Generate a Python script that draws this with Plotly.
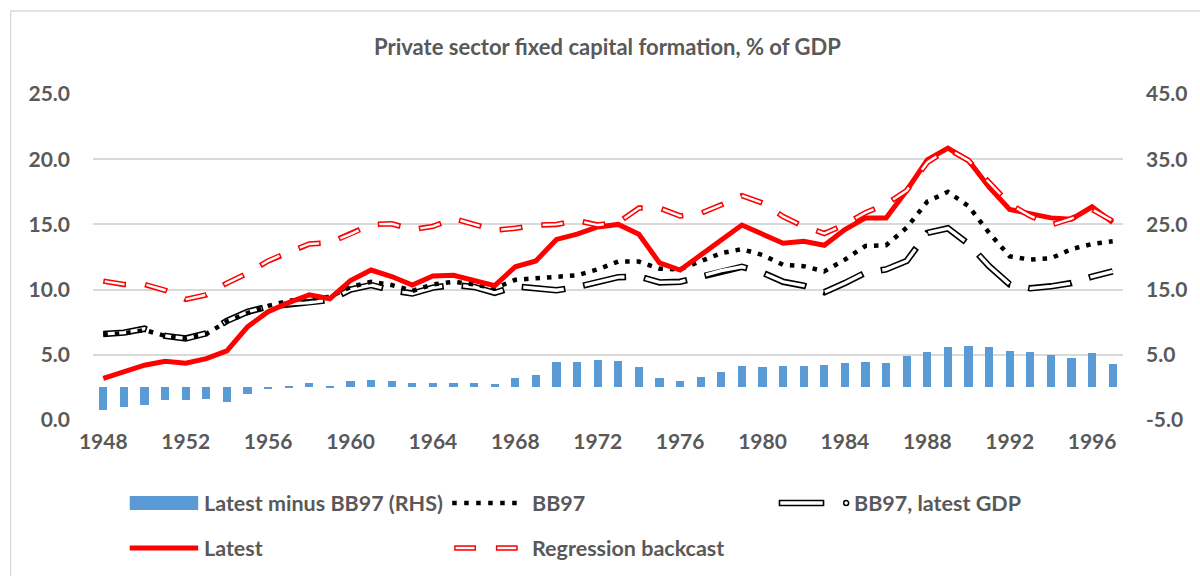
import plotly.graph_objects as go

years = list(range(1948, 1998))

latest = [3.2, 3.7, 4.2, 4.5, 4.35, 4.7, 5.3, 7.15, 8.3, 9.0, 9.6, 9.3, 10.7, 11.5, 11.0, 10.35, 11.05,
          11.1, 10.7, 10.3, 11.75, 12.2, 13.85, 14.25, 14.8, 15.0, 14.25, 12.05, 11.5, 12.6, 13.8, 14.95,
          14.25, 13.55, 13.7, 13.4, 14.6, 15.5, 15.5, 17.6, 19.95, 20.85, 19.9, 17.85, 16.15, 15.8, 15.5,
          15.4, 16.35, 15.15]

bb97 = [6.55, 6.65, 6.9, 6.45, 6.25, 6.6, 7.55, 8.2, 8.75, 9.15, 9.3, 9.45, 10.2, 10.6, 10.35, 9.9, 10.4,
        10.6, 10.4, 10.1, 10.75, 10.85, 10.95, 11.1, 11.55, 12.15, 12.15, 11.6, 11.55, 12.15, 12.8, 13.1,
        12.65, 11.9, 11.8, 11.4, 12.3, 13.35, 13.4, 14.75, 16.75, 17.5, 16.4, 14.35, 12.55, 12.3, 12.4,
        13.1, 13.5, 13.7]

bb97_latest_gdp = [6.6, 6.7, 7.0, 6.45, 6.25, 6.65, 7.6, 8.3, 8.7, 8.9, 9.0, 9.2, 10.0, 10.35, 9.95, 9.7,
                   10.15, 10.35, 10.2, 9.75, 10.25, 10.1, 9.95, 10.2, 10.6, 10.95, 11.0, 10.55, 10.6, 11.0,
                   11.45, 11.75, 11.3, 10.6, 10.3, 9.8, 10.5, 11.3, 11.55, 12.2, 14.35, 14.7, 13.5, 11.8,
                   10.4, 10.1, 10.25, 10.5, 11.0, 11.4]

regression = [10.65, 10.4, 10.4, 9.95, 9.25, 9.6, 10.5, 11.25, 12.2, 12.9, 13.5, 13.6, 14.25, 15.0, 15.05,
              14.6, 14.85, 15.45, 15.0, 14.55, 14.7, 14.95, 15.0, 15.3, 14.95, 15.15, 16.25, 16.25, 15.65,
              15.85, 16.5, 17.2, 16.65, 15.6, 14.85, 14.3, 15.0, 15.9, 16.55, 17.6, 19.75, 20.8, 19.9, 18.2,
              16.55, 15.65, 14.95, 15.45, 16.15, 15.25]

diff_rhs = [-3.47, -3.06, -2.7, -1.93, -1.93, -1.83, -2.19, -1.0, -0.3, 0.1, 0.63, 0.1, 0.98, 1.13, 0.98,
            0.72, 0.72, 0.61, 0.72, 0.51, 1.5, 1.9, 3.84, 3.94, 4.2, 4.05, 3.18, 1.5, 0.98, 1.65, 2.36, 3.28,
            3.08, 3.26, 3.35, 3.5, 3.76, 3.96, 3.81, 4.84, 5.4, 6.18, 6.33, 6.18, 5.66, 5.5, 5.04, 4.58, 5.25,
            3.65]

x_tick_vals = list(range(1948, 1997, 4))
y2_tick_vals = [-5, 5, 15, 25, 35, 45]
y2_tick_text = ["-5.0", "5.0", "15.0", "25.0", "35.0", "45.0"]
title_text = "Private sector fixed capital formation, % of GDP"
legend_names = ["Latest minus BB97 (RHS)", "BB97", "BB97, latest GDP", "Latest", "Regression backcast"]

FONT = "Lato, 'Open Sans', sans-serif"
GREY = "#595959"
BLUE = "#5b9bd5"
RED = "#ff0000"

W, H = 1200, 576
L, R, T, B = 93, 69, 94, 156
PW = W - L - R
PH = H - T - B


def px(xp):
    return (xp - L) / PW


def py(yp):
    return (H - B - yp) / PH


fig = go.Figure()

fig.add_trace(go.Bar(x=years, y=diff_rhs, yaxis="y2", width=0.4, marker=dict(color=BLUE, line=dict(width=0)),
                     name=legend_names[0], showlegend=False))

# BB97, latest GDP : double (outlined) long dashes
fig.add_trace(go.Scatter(x=years, y=bb97_latest_gdp, mode="lines", name=legend_names[2], showlegend=False,
                         line=dict(color="black", width=6.5, dash="44px,18px")))
fig.add_trace(go.Scatter(x=years, y=bb97_latest_gdp, mode="lines", showlegend=False, hoverinfo="skip",
                         line=dict(color="white", width=3.3, dash="0px,1.6px,40.8px,19.6px")))

# BB97 dotted
fig.add_trace(go.Scatter(x=years, y=bb97, mode="lines", name=legend_names[1], showlegend=False,
                         line=dict(color="black", width=4.5, dash="4.5px,7px")))

# Latest
fig.add_trace(go.Scatter(x=years, y=latest, mode="lines", name=legend_names[3], showlegend=False,
                         line=dict(color=RED, width=5)))

# Regression backcast: outlined red dashes
fig.add_trace(go.Scatter(x=years, y=regression, mode="lines", name=legend_names[4], showlegend=False,
                         line=dict(color=RED, width=5.5, dash="23px,19px")))
fig.add_trace(go.Scatter(x=years, y=regression, mode="lines", showlegend=False, hoverinfo="skip",
                         line=dict(color="white", width=2.4, dash="0px,1.5px,20px,20.5px")))

shapes = []
# outer chart border
shapes.append(dict(type="rect", xref="paper", yref="paper", x0=px(10), x1=px(1230), y0=py(620), y1=py(11),
                   line=dict(color="#d9d9d9", width=1.3), fillcolor="rgba(0,0,0,0)", layer="below"))

# custom legend symbols
r1, r2 = 503, 548
shapes.append(dict(type="rect", xref="paper", yref="paper", x0=px(130), x1=px(199), y0=py(510), y1=py(496),
                   line=dict(width=0), fillcolor=BLUE))
shapes.append(dict(type="line", xref="paper", yref="paper", x0=px(455), x1=px(525), y0=py(r1), y1=py(r1),
                   line=dict(color="black", width=4.5, dash="4.5px,7.5px")))
shapes.append(dict(type="line", xref="paper", yref="paper", x0=px(784), x1=px(830), y0=py(r1), y1=py(r1),
                   line=dict(color="black", width=6.5)))
shapes.append(dict(type="line", xref="paper", yref="paper", x0=px(785.6), x1=px(828.4), y0=py(r1), y1=py(r1),
                   line=dict(color="white", width=3.3)))
shapes.append(dict(type="circle", xref="paper", yref="paper", x0=px(849.5), x1=px(854.5), y0=py(505.5),
                   y1=py(500.5), line=dict(color="black", width=1.5), fillcolor="white"))
shapes.append(dict(type="line", xref="paper", yref="paper", x0=px(130), x1=px(199), y0=py(r2), y1=py(r2),
                   line=dict(color=RED, width=5)))
for a, b in [(457, 479), (499, 521)]:
    shapes.append(dict(type="line", xref="paper", yref="paper", x0=px(a), x1=px(b), y0=py(r2), y1=py(r2),
                       line=dict(color=RED, width=5.5)))
    shapes.append(dict(type="line", xref="paper", yref="paper", x0=px(a + 1.5), x1=px(b - 1.5), y0=py(r2),
                       y1=py(r2), line=dict(color="white", width=2.4)))

annotations = [
    dict(text=title_text, xref="paper", yref="paper", x=px(611), y=py(47), xanchor="center", yanchor="middle",
         showarrow=False, font=dict(family=FONT, size=22, color=GREY, weight="bold")),
]
for name, xx, yy in [(legend_names[0], 203, r1), (legend_names[1], 533, r1), (legend_names[2], 858, r1),
                     (legend_names[3], 203, r2), (legend_names[4], 533, r2)]:
    annotations.append(dict(text=name, xref="paper", yref="paper", x=px(xx), y=py(yy), xanchor="left",
                            yanchor="middle", showarrow=False,
                            font=dict(family=FONT, size=21.5, color=GREY, weight="bold")))

tickfont = dict(family=FONT, size=21, color=GREY, weight="bold")

fig.update_layout(
    width=W, height=H,
    margin=dict(l=L, r=R, t=T, b=B, pad=0),
    paper_bgcolor="white", plot_bgcolor="white",
    showlegend=False,
    bargap=0,
    shapes=shapes,
    annotations=annotations,
    xaxis=dict(range=[1947.5, 1997.5], tickmode="array", tickvals=x_tick_vals, showgrid=False,
               zeroline=False, showline=False, ticks="", tickfont=tickfont, ticklabelstandoff=7),
    yaxis=dict(range=[0, 25], dtick=5, tick0=0, tickformat=".1f", showgrid=True, gridcolor="#d9d9d9",
               gridwidth=1.5, zeroline=False, showline=False, ticks="", tickfont=tickfont,
               ticklabelstandoff=22),
    yaxis2=dict(range=[-5, 45], tickmode="array", tickvals=y2_tick_vals, ticktext=y2_tick_text,
                overlaying="y", side="right", showgrid=False, zeroline=False, showline=False, ticks="",
                tickfont=tickfont, ticklabelstandoff=22),
)

fig.write_html("out.html", config={"displayModeBar": False},
               post_script="document.body.style.margin='0px';")
